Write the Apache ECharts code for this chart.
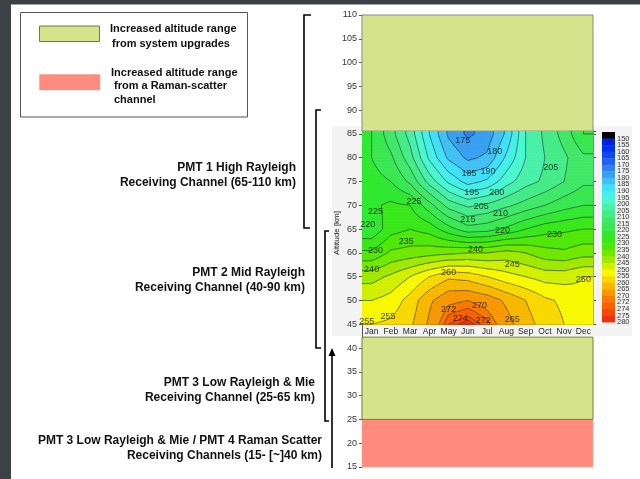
<!DOCTYPE html>
<html>
<head>
<meta charset="utf-8">
<script src="https://cdn.jsdelivr.net/npm/echarts@6/dist/echarts.min.js"></script>
<style>
html,body{margin:0;padding:0;background:#fff;}
#chart{width:640px;height:479px;}
</style>
</head>
<body>
<div id="chart"></div>
<script>
// months of the climatology (contour x axis)
var months = ['Jan','Feb','Mar','Apr','May','Jun','Jul','Aug','Sep','Oct','Nov','Dec'];
// altitudes of the temperature rows [km]
var altitudes = [45, 50, 55, 60, 65, 70, 75, 80, 85];
// temperature [K], one row per altitude, Jan..Dec
var t45 = [255, 256, 259, 266, 274, 276, 273, 267, 262, 258, 255, 253];
var t50 = [250, 252, 257, 264, 269, 270, 268, 264, 260, 256, 254, 251];
var t55 = [243, 246, 250, 255, 259, 258, 255, 252, 250, 248, 248, 250];
var t60 = [231, 236, 237, 238, 239, 240, 240, 242, 240, 237, 236, 238];
var t65 = [221, 228, 230, 228, 222, 217, 218, 221, 225, 228, 229, 230];
var t70 = [224, 226, 225, 217, 208, 204, 206, 209, 212, 215, 218, 220];
var t75 = [222, 220, 214, 203, 194, 188, 191, 198, 203, 206, 210, 214];
var t80 = [220, 216, 207, 194, 184, 179, 181, 191, 200, 205, 209, 214];
var t85 = [220, 212, 203, 190, 179, 174, 177, 186, 200, 206, 212, 220];
var tempRows = [t45, t50, t55, t60, t65, t70, t75, t80, t85];
var contourTop = 85.6;

// contour levels / colour bar tick labels
var levels = [150,155,160,165,170,175,180,185,190,195,200,205,210,215,220,225,230,235,240,245,250,255,260,265,270,272,274,275,280];
var levelColors = ['#0020e0','#0030f0','#1048f0','#2060f0','#3080f0','#38a0f0','#40c0f4','#40e0f8','#44f0e8','#48f8d0',
  '#48f0a8','#44ec88','#40e868','#38e850','#30e830','#38e818','#50e808','#70e800','#a0e800','#d0f000',
  '#f8f800','#f8d800','#f8b800','#f89800','#f87800','#f86000','#f84800','#f03010'];
var belowColor = '#000000';

// altitude ranges added by upgrades [km]
var bandLow  = [15, 25, 85.6];
var bandHigh = [25, 42.3, 110];
var bandKind = ['raman', 'upgrade', 'upgrade'];

// contour labels: [month position, altitude, text]
var contourLabels = [
  [5.73, 83.7, '175'], [7.4, 81.4, '180'], [6.06, 76.6, '185'], [7.05, 77, '190'], [10.3, 78, '205'],
  [6.2, 72.6, '195'], [7.5, 72.6, '200'], [3.2, 70.9, '225'], [1.2, 68.6, '225'], [6.7, 69.8, '205'],
  [7.7, 68.2, '210'], [6.0, 67.1, '215'], [0.8, 65.9, '220'], [7.8, 64.8, '220'], [10.5, 63.8, '230'],
  [2.8, 62.3, '235'], [1.2, 60.6, '230'], [6.4, 60.8, '240'], [8.3, 57.5, '245'], [1.0, 56.6, '240'],
  [5.0, 55.8, '260'], [12.0, 54.5, '250'], [5.0, 48.2, '272'], [6.6, 49.0, '270'], [1.85, 46.7, '255'],
  [5.6, 46.3, '274'], [6.8, 45.7, '272'], [8.3, 46.1, '265'], [0.75, 45.5, '255']
];

var colX = [0.5];
months.forEach(function (m, i) { colX.push(i + 1); });
colX.push(12.5);
var rowY = altitudes.concat([contourTop]);

function gridVal(ci, rj) {
  var i = Math.min(Math.max(ci - 1, 0), months.length - 1);
  var j = Math.min(rj, altitudes.length - 1);
  return tempRows[j][i];
}
function colorOf(v) {
  if (v < levels[0]) return belowColor;
  for (var k = 0; k < levelColors.length; k++) {
    if (v < levels[k + 1]) return levelColors[k];
  }
  return levelColors[levelColors.length - 1];
}

var cells = [];
for (var ci = 0; ci < colX.length - 1; ci++) {
  for (var rj = 0; rj < rowY.length - 1; rj++) cells.push([ci, rj]);
}

function cellGeom(api) {
  var ci = api.value(0), rj = api.value(1);
  var pA = api.coord([colX[ci], rowY[rj]]);
  var pB = api.coord([colX[ci + 1], rowY[rj + 1]]);
  var w = pB[0] - pA[0], h = pA[1] - pB[1];
  var nx = Math.max(1, Math.round(w / 1.5)), ny = Math.max(1, Math.round(h / 1.5));
  var v00 = gridVal(ci, rj), v10 = gridVal(ci + 1, rj), v01 = gridVal(ci, rj + 1), v11 = gridVal(ci + 1, rj + 1);
  var g = [];
  for (var a = 0; a <= nx; a++) {
    g.push([]);
    for (var b = 0; b <= ny; b++) {
      var u = a / nx, v = b / ny;
      g[a].push(v00 * (1 - u) * (1 - v) + v10 * u * (1 - v) + v01 * (1 - u) * v + v11 * u * v);
    }
  }
  return { x0: pA[0], y0: pA[1], sx: w / nx, sy: h / ny, nx: nx, ny: ny, g: g };
}

function renderFill(params, api) {
  var c = cellGeom(api), children = [];
  for (var b = 0; b < c.ny; b++) {
    var runStart = 0, runColor = null;
    for (var a = 0; a <= c.nx; a++) {
      var col = a < c.nx ? colorOf((c.g[a][b] + c.g[a + 1][b] + c.g[a][b + 1] + c.g[a + 1][b + 1]) / 4) : null;
      if (col !== runColor) {
        if (runColor) {
          children.push({
            type: 'rect',
            shape: { x: c.x0 + runStart * c.sx, y: c.y0 - (b + 1) * c.sy, width: (a - runStart) * c.sx + 0.6, height: c.sy + 0.6 },
            style: { fill: runColor }
          });
        }
        runStart = a; runColor = col;
      }
    }
  }
  return { type: 'group', children: children };
}

function renderLines(params, api) {
  var c = cellGeom(api), d = '';
  function px(a) { return c.x0 + a * c.sx; }
  function py(b) { return c.y0 - b * c.sy; }
  for (var a = 0; a < c.nx; a++) {
    for (var b = 0; b < c.ny; b++) {
      var q = [c.g[a][b], c.g[a + 1][b], c.g[a + 1][b + 1], c.g[a][b + 1]];
      var qa = [[a, b], [a + 1, b], [a + 1, b + 1], [a, b + 1]];
      var mn = Math.min.apply(null, q), mx = Math.max.apply(null, q);
      for (var k = 0; k < levels.length; k++) {
        var L = levels[k];
        if (L <= mn || L > mx) continue;
        var pts = [];
        for (var e = 0; e < 4; e++) {
          var ca = q[e], cb = q[(e + 1) % 4];
          if ((ca < L) !== (cb < L)) {
            var t = (L - ca) / (cb - ca);
            var A = qa[e], B = qa[(e + 1) % 4];
            pts.push([px(A[0] + (B[0] - A[0]) * t), py(A[1] + (B[1] - A[1]) * t)]);
          }
        }
        if (pts.length >= 2) d += 'M' + pts[0][0] + ' ' + pts[0][1] + 'L' + pts[1][0] + ' ' + pts[1][1];
        if (pts.length === 4) d += 'M' + pts[2][0] + ' ' + pts[2][1] + 'L' + pts[3][0] + ' ' + pts[3][1];
      }
    }
  }
  if (!d) return null;
  return { type: 'path', shape: { pathData: d }, style: { fill: null, stroke: '#2a2a2a', lineWidth: 0.6 } };
}

var bandData = bandLow.map(function (lo, i) { return [lo, bandHigh[i], i]; });
function renderBand(params, api) {
  var i = api.value(2);
  var p0 = api.coord([0.5, api.value(0)]);
  var p1 = api.coord([12.5, api.value(1)]);
  var kind = bandKind[i];
  return {
    type: 'rect',
    shape: { x: p0[0], y: p1[1], width: p1[0] - p0[0], height: p0[1] - p1[1] },
    style: kind === 'raman'
      ? { fill: '#fe8b7e', stroke: '#f6a090', lineWidth: 0.5 }
      : { fill: '#d5e48a', stroke: i === 1 ? '#6f7e3c' : '#8a8a8a', lineWidth: 1 }
  };
}

var barData = [];
for (var k = -1; k < levelColors.length; k++) barData.push([0, k]);
function renderBar(params, api) {
  var k = api.value(1);
  var p0 = api.coord([0, k]);
  var p1 = api.coord([1, k + 1]);
  return {
    type: 'rect',
    shape: { x: p0[0], y: Math.min(p0[1], p1[1]), width: p1[0] - p0[0], height: Math.abs(p1[1] - p0[1]) + 0.4 },
    style: { fill: k < 0 ? belowColor : levelColors[k] }
  };
}

var boldFont = "bold 12px 'Liberation Sans', Arial, sans-serif";
var legFont = "bold 11px 'Liberation Sans', Arial, sans-serif";
function txt(x, y, s, font, align) {
  return { type: 'text', x: x, y: y, z: 10, style: { text: s, font: font, fill: '#111', textAlign: align || 'right', textVerticalAlign: 'middle' } };
}
function bracket(pts) {
  return { type: 'polyline', z: 10, shape: { points: pts }, style: { stroke: '#000', lineWidth: 1.6, fill: null } };
}

var chart = echarts.init(document.getElementById('chart'), null, { renderer: 'canvas' });
chart.setOption({
  animation: false,
  backgroundColor: '#ffffff',
  textStyle: { fontFamily: "'Liberation Sans', Arial, sans-serif" },
  grid: [
    { left: 362, right: 47, top: 15, bottom: 12 },
    { left: 362, width: 231, top: 131.1, height: 193.2 },
    { left: 602, width: 13, top: 132, height: 193.3 }
  ],
  xAxis: [
    { gridIndex: 0, type: 'value', min: 0.5, max: 12.5, show: false },
    { gridIndex: 1, type: 'category', data: months, position: 'bottom',
      axisLine: { lineStyle: { color: '#111', width: 1 } },
      axisTick: { length: 4, interval: 0, lineStyle: { color: '#111' } },
      axisLabel: { fontSize: 8.5, color: '#222', margin: 3, interval: 0 } },
    { gridIndex: 2, type: 'value', min: 0, max: 1, show: false }
  ],
  yAxis: [
    { gridIndex: 0, type: 'value', min: 15, max: 110, interval: 5,
      axisLine: { show: true, lineStyle: { color: '#555' } },
      axisTick: { show: true, length: 3, lineStyle: { color: '#555' } },
      axisLabel: { fontSize: 9, color: '#333', margin: 5 },
      splitLine: { show: false } },
    { gridIndex: 1, type: 'value', min: 45, max: contourTop, interval: 5, position: 'left',
      axisLine: { show: true, lineStyle: { color: '#111' } },
      axisTick: { show: false }, axisLabel: { show: false }, splitLine: { show: false } },
    { gridIndex: 1, type: 'value', min: 45, max: contourTop, interval: 5, position: 'right',
      axisLine: { show: true, lineStyle: { color: '#444' } },
      axisTick: { show: true, length: 3, lineStyle: { color: '#444' } },
      axisLabel: { show: false }, splitLine: { show: false } },
    { gridIndex: 2, type: 'value', min: -1, max: 28.5, interval: 1, inverse: true, position: 'right',
      axisLine: { show: false }, axisTick: { show: false }, splitLine: { show: false },
      axisLabel: { fontSize: 7.5, color: '#333', margin: 2, showMaxLabel: false, showMinLabel: false,
        formatter: function (v) { return (v >= 0 && v < levels.length && v === Math.round(v)) ? String(levels[v]) : ''; } } }
  ],
  series: [
    { type: 'custom', xAxisIndex: 0, yAxisIndex: 0, data: bandData, renderItem: renderBand, silent: true, z: 1 },
    { type: 'custom', xAxisIndex: 0, yAxisIndex: 0, data: cells, renderItem: renderFill, silent: true, z: 2 },
    { type: 'custom', xAxisIndex: 0, yAxisIndex: 0, data: cells, renderItem: renderLines, silent: true, z: 3 },
    { type: 'scatter', xAxisIndex: 0, yAxisIndex: 0, data: contourLabels, symbolSize: 1, silent: true, z: 4,
      itemStyle: { color: 'rgba(0,0,0,0)' },
      label: { show: true, position: 'inside', fontSize: 9, color: '#111',
        formatter: function (p) { return p.value[2]; } } },
    { type: 'custom', xAxisIndex: 2, yAxisIndex: 3, data: barData, renderItem: renderBar, silent: true }
  ],
  graphic: [
    { type: 'rect', z: -10, shape: { x: 332, y: 126, width: 300, height: 210 }, style: { fill: '#f4f4f4' } },
    { type: 'rect', z: 10, shape: { x: 0, y: 0, width: 640, height: 4.5 }, style: { fill: '#3a4246' } },
    { type: 'rect', z: 10, shape: { x: 0, y: 0, width: 11, height: 479 }, style: { fill: '#3a4246' } },
    { type: 'rect', z: 10, shape: { x: 20.5, y: 12.5, width: 227, height: 104.5 }, style: { fill: '#fff', stroke: '#555', lineWidth: 1 } },
    { type: 'rect', z: 11, shape: { x: 39.5, y: 26, width: 60, height: 15.5 }, style: { fill: '#d5e48a', stroke: '#6f7e3c', lineWidth: 1 } },
    { type: 'rect', z: 11, shape: { x: 39.5, y: 74.5, width: 60.5, height: 15.5 }, style: { fill: '#fe8b7e', stroke: '#f0a090', lineWidth: 0.5 } },
    txt(110, 29, 'Increased altitude range', legFont, 'left'),
    txt(112, 43.5, 'from system upgrades', legFont, 'left'),
    txt(111, 72.5, 'Increased altitude range', legFont, 'left'),
    txt(114, 86, 'from a Raman-scatter', legFont, 'left'),
    txt(114, 99.5, 'channel', legFont, 'left'),
    txt(296, 167.5, 'PMT 1 High Rayleigh', boldFont),
    txt(296, 183, 'Receiving Channel (65-110 km)', boldFont),
    txt(305, 273, 'PMT 2 Mid Rayleigh', boldFont),
    txt(305, 288, 'Receiving Channel (40-90 km)', boldFont),
    txt(315, 383, 'PMT 3 Low Rayleigh & Mie', boldFont),
    txt(315, 398, 'Receiving Channel (25-65 km)', boldFont),
    txt(322, 441, 'PMT 3 Low Rayleigh & Mie / PMT 4 Raman Scatter', boldFont),
    txt(322, 456, 'Receiving Channels (15- [~]40 km)', boldFont),
    bracket([[311, 15], [304, 15], [304, 228], [310, 228]]),
    bracket([[321, 110], [316, 110], [316, 348], [321, 348]]),
    bracket([[329, 231], [325, 231], [325, 421], [329, 421]]),
    { type: 'line', z: 10, shape: { x1: 332, y1: 468, x2: 332, y2: 354 }, style: { stroke: '#000', lineWidth: 1.6 } },
    { type: 'polygon', z: 10, shape: { points: [[332, 348], [328.5, 356], [335.5, 356]] }, style: { fill: '#000' } },
    { type: 'text', x: 337, y: 233, z: 10, rotation: Math.PI / 2,
      style: { text: 'Altitude [km]', font: "8px 'Liberation Sans', Arial, sans-serif", fill: '#222', textAlign: 'center', textVerticalAlign: 'middle' } }
  ]
});
</script>
</body>
</html>
